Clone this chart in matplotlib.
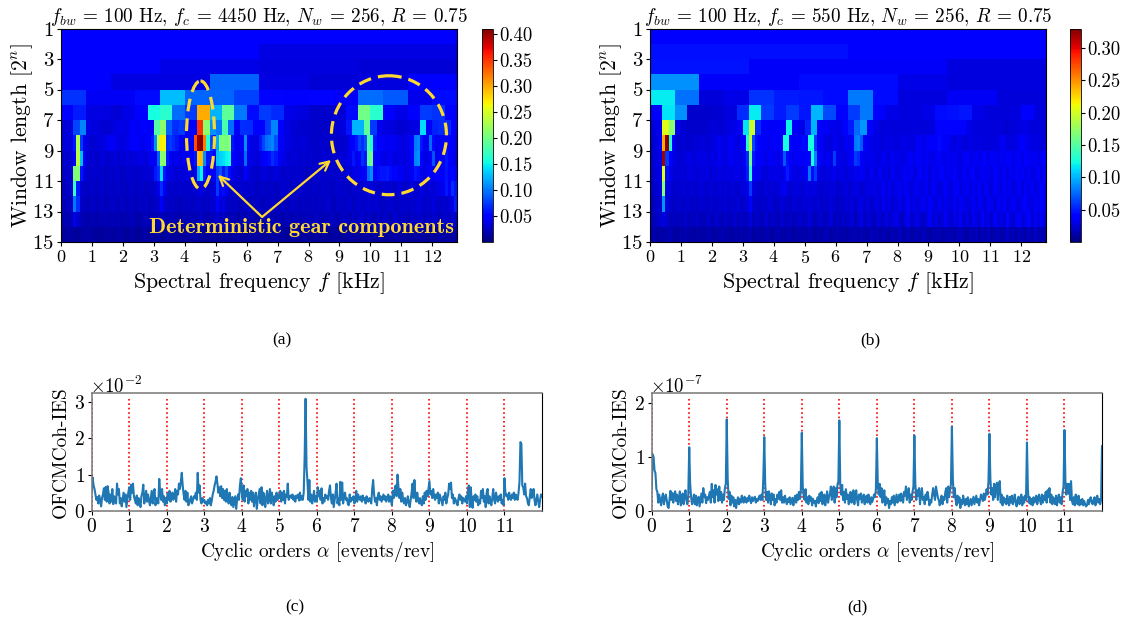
import matplotlib
matplotlib.use('Agg')
import matplotlib.pyplot as plt
import numpy as np
from matplotlib.patches import Ellipse

plt.rcParams['font.family'] = 'cmr10'
plt.rcParams['mathtext.fontset'] = 'cm'
plt.rcParams['axes.unicode_minus'] = False
plt.rcParams['axes.formatter.use_mathtext'] = True

# heatmap rows in thousandths, row n spans y=n..n+1
a_rows = [
 [48],
 [50,36],
 [48,38,34,32],
 [48,36,36,90,36,32,34,45],
 [72,42,42,56,128,92,92,78,52,46,52,44,96,88,40,56],
 [48,62,36,36,32,38,46,155,165,95,75,300,125,190,100,55,75,68,38,34,28,28,32,56,200,165,48,38,46,75,72,48],
 [32,34,80,105,36,34,32,30,34,38,36,44,42,46,44,185,215,90,70,75,50,48,350,215,110,100,180,95,50,70,68,48,
  50,75,105,48,36,32,30,28,28,26,26,28,30,34,60,125,125,190,75,40,36,34,30,32,34,36,140,44,65,68,66,44],
 [30,34,32,38,60,230,75,40,34,30,30,32,34,36,36,42,
  44,40,36,34,36,38,44,46,48,44,40,46,50,60,110,240,
  270,265,70,75,68,60,44,40,42,46,44,340,400,410,320,165,
  80,60,120,205,210,200,215,60,44,40,42,110,44,38,36,34,
  60,80,95,100,105,85,50,44,36,34,34,32,30,32,34,30,
  28,28,26,28,30,28,26,28,28,26,28,30,32,44,50,60,
  80,70,85,185,160,60,50,46,44,40,44,42,40,38,36,36,
  44,52,100,105,60,42,40,95,55,42,44,46,44,48,44,40],
 [26,30,28,32,44,235,130,42,30,28,32,26,30,34,30,28,
  30,34,28,32,30,36,30,34,32,38,36,32,40,44,40,90,
  215,210,60,42,38,40,36,44,40,42,44,60,290,295,110,60,
  60,48,130,135,140,150,155,46,44,40,38,95,40,36,34,32,
  38,44,50,55,70,60,44,38,36,32,30,34,30,28,30,28,
  30,28,26,28,30,32,28,26,30,28,34,30,36,40,60,40,
  50,70,60,190,200,50,44,40,36,38,42,36,34,38,36,34,
  40,48,105,110,50,38,34,44,85,38,44,50,60,46,40,38],
 [24,26,28,30,205,210,60,34,28,26,30,28,26,30,24,28,
  26,28,30,24,28,26,30,28,26,28,30,32,30,34,60,70,
  140,60,40,36,34,30,34,32,36,34,32,40,120,150,60,44,
  40,45,75,85,60,80,55,38,34,32,30,50,34,30,28,26,
  30,34,32,28,30,34,30,28,26,30,28,26,30,26,28,24,
  26,28,26,30,28,26,28,30,26,28,30,26,34,30,38,36,
  40,44,50,95,110,44,56,60,58,62,56,48,52,40,44,36,
  38,44,60,55,40,34,42,50,40,46,44,50,58,48,54,46],
 [22,24,26,30,170,60,30,26,24,28,26,24,28,26,24,26,
  24,26,28,24,26,24,28,26,24,28,26,24,28,26,30,40,
  70,42,30,26,28,26,30,28,26,28,30,28,34,36,30,28,
  30,34,75,44,55,40,30,28,26,28,30,28,26,30,26,24,
  26,28,24,26,28,24,26,28,30,26,24,28,26,30,28,26,
  24,26,28,24,30,26,28,24,26,30,28,26,28,24,30,26,
  30,28,34,30,36,30,28,26,32,28,30,26,28,34,30,28,
  30,34,28,30,36,32,28,34,30,36,38,40,60,44,70,58],
 [20,22,24,26,100,70,26,24,22,24,26,22,24,26,22,24,
  26,24,22,26,24,22,26,24,22,26,24,26,22,24,26,30,
  44,30,26,24,26,24,22,26,24,26,24,26,28,26,24,26,
  28,30,48,32,36,28,26,24,26,24,22,26,24,22,24,26,
  24,22,26,24,28,24,22,26,24,22,28,26,24,22,26,24,
  24,26,22,28,24,26,30,24,22,26,28,24,26,30,24,26,
  30,26,28,32,26,30,28,24,28,26,30,28,24,26,30,28,
  26,30,28,34,30,26,30,28,34,28,26,30,28,32,36,62],
 [16,18,20,18,40,28,20,18,16,20,18,16,20,18,22,18,
  20,18,22,16,20,18,22,20,18,16,20,22,18,20,18,22,
  24,20,18,22,20,18,16,20,22,18,20,18,22,26,20,18,
  22,26,30,22,26,20,18,22,20,16,20,18,22,20,18,16,
  20,18,22,24,20,18,22,16,20,22,18,20,24,18,22,20,
  24,20,26,22,18,24,20,26,22,18,22,26,24,20,28,22,
  26,30,22,28,24,20,26,22,28,24,20,26,30,22,26,24,
  22,28,24,30,26,22,28,24,30,26,22,28,26,24,30,26],
 [12,14,10,13,16,12,10,14,12,15,11,13,10,14,12,13,
  11,14,12,10,13,15,12,11,14,10,13,12,15,11,13,14,
  12,10,14,13,11,15,12,14,10,13,12,11,14,12,15,13,
  11,14,12,13,10,14,15,12,11,13,14,10,12,15,13,14],
]

b_rows = [
 [41],
 [46,39],
 [47,35,35,28],
 [88,36,36,44,45,30,28,28],
 [118,78,26,30,58,50,48,44,80,44,28,28,34,34,26,26],
 [40,115,88,22,22,24,28,55,118,60,50,60,48,100,65,40,60,80,40,30,28,28,30,44,46,48,30,26,26,28,40,28],
 [28,30,205,170,30,24,22,22,22,24,26,24,28,30,34,115,195,55,38,36,36,40,120,34,30,52,100,40,34,32,30,38,
  50,75,90,40,30,26,28,26,28,26,28,26,26,28,42,42,42,42,42,30,28,26,28,26,26,24,26,28,30,28,26,26],
 [24,26,28,36,240,325,130,40,24,22,26,24,22,24,26,24,
  28,26,24,28,26,30,34,30,28,32,36,30,28,34,40,130,
  195,65,44,40,36,34,32,36,38,34,40,125,125,40,34,36,
  38,44,42,125,125,60,36,34,30,28,26,34,30,28,30,34,
  32,38,80,85,70,36,30,32,28,30,28,26,30,28,30,26,
  28,32,30,28,30,28,34,36,30,34,38,36,40,44,40,36,
  34,30,28,32,30,26,28,30,28,26,30,28,26,28,26,28,
  30,32,34,28,26,30,28,36,40,34,30,28,30,28,26,28],
 [24,26,28,30,320,60,40,30,26,24,28,26,30,28,26,30,
  28,30,26,28,30,28,34,30,28,32,34,30,32,28,34,55,
  160,50,40,36,34,30,36,34,32,30,34,70,45,36,32,34,
  36,34,40,42,125,85,38,34,30,36,30,60,32,30,28,30,
  34,40,60,55,36,32,30,34,30,28,30,34,30,28,34,30,
  32,28,30,36,34,30,38,34,30,36,32,30,34,38,32,30,
  36,30,34,32,28,34,38,30,32,36,30,34,38,30,36,34,
  30,34,32,40,36,30,34,38,30,40,34,32,36,30,34,38],
 [22,24,28,30,205,44,30,26,24,28,26,24,30,26,28,24,
  28,26,30,24,28,26,30,28,26,30,28,32,30,28,32,50,
  135,40,30,34,28,26,30,28,32,30,26,36,50,34,30,28,
  30,32,36,80,44,60,30,28,26,30,28,34,26,30,28,26,
  30,28,34,32,36,30,28,34,26,30,34,28,30,26,34,30,
  28,32,36,30,34,28,32,38,30,34,28,36,30,34,38,30,
  34,30,38,32,28,36,30,34,38,28,32,36,30,34,28,38,
  32,30,36,28,34,30,40,32,36,30,34,28,32,38,30,34],
 [20,22,24,26,170,30,26,22,24,22,26,24,22,26,24,22,
  26,24,22,26,24,22,28,24,26,22,26,24,22,28,26,30,
  60,28,26,24,22,26,24,28,24,26,30,36,28,24,26,28,
  26,24,30,28,26,30,24,22,26,24,28,26,22,24,26,28,
  24,26,30,28,24,26,30,28,32,26,30,34,28,32,26,30,
  34,28,36,30,26,32,36,28,30,34,28,38,32,26,30,36,
  30,26,34,38,28,32,36,26,34,30,38,28,34,30,26,36,
  32,28,36,30,34,26,30,38,28,34,30,36,28,32,38,30],
 [18,20,22,24,90,28,22,20,22,24,20,22,24,20,22,20,
  24,22,20,24,22,20,24,22,26,20,24,22,26,20,24,26,
  40,24,22,20,24,22,26,24,20,22,26,22,24,20,26,24,
  22,26,24,28,24,22,26,20,24,22,26,24,20,24,22,26,
  24,28,22,26,30,24,28,22,26,30,24,34,26,30,24,28,
  32,26,30,36,28,32,26,30,34,28,36,30,26,34,28,32,
  30,26,34,28,36,32,26,30,36,28,34,30,26,36,32,28,
  34,30,38,28,32,36,30,26,34,38,30,28,36,32,40,30],
 [16,18,20,22,30,22,18,20,16,20,18,22,16,20,18,22,
  18,16,22,20,18,24,20,16,22,18,20,24,16,22,18,20,
  26,18,22,20,16,24,18,22,20,16,24,20,18,22,16,20,
  24,18,22,26,20,16,22,24,18,20,26,16,22,18,24,20,
  22,26,18,24,30,20,26,22,18,28,24,20,30,22,26,32,
  24,20,28,34,22,26,30,24,20,28,36,24,30,22,26,34,
  28,22,32,26,36,24,30,22,34,28,24,38,26,30,22,36,
  26,32,24,42,28,22,34,40,26,30,38,24,34,28,36,24],
 [12,15,10,14,11,13,16,12,10,14,12,15,11,13,10,14,
  12,11,15,13,10,14,12,16,11,13,10,15,12,14,11,13,
  16,10,14,12,11,15,13,10,14,16,12,11,15,13,10,14,
  12,15,11,16,13,10,14,12,15,18,11,13,16,12,14,11,
  15,13,18,12,16,14,11,20,13,16,12,18,14,11,16,13,
  20,12,15,18,11,14,17,12,20,14,11,16,13,18,12,15,
  14,18,12,16,20,13,11,17,14,19,12,16,13,20,11,15,
  18,12,14,22,13,17,11,20,15,12,18,14,22,13,16,12],
]

# envelope values per order interval, one list per cyclic order
c_vals = [
 [0.55,0.92,0.7,0.6,0.45,0.3,0.38,0.2,0.42,0.3,0.12,0.35,0.45,0.62,0.3,0.66,0.25,0.68,0.5,0.2,0.45,0.25,0.6,0.18,0.4,0.3,0.2,0.75,0.45,0.6,0.2,0.35,0.12,0.3,0.5,0.25,0.45,0.1,0.3,0.5],
 [0.65,0.3,0.72,0.5,0.75,0.4,0.3,0.2,0.42,0.15,0.35,0.25,0.1,0.4,0.5,0.72,0.2,0.35,0.55,0.25,0.45,0.3,0.15,0.35,0.55,0.2,0.48,0.6,0.15,0.35,0.3,0.2,0.88,0.5,0.3,0.6,0.25,0.4,0.15,0.35],
 [0.2,0.48,0.3,0.55,0.25,0.45,0.5,0.3,0.4,0.6,0.25,0.55,0.45,0.75,0.6,0.8,1.05,0.7,0.45,0.3,0.55,0.25,0.5,0.15,0.2,0.32,0.4,0.2,0.3,0.4,0.35,0.5,0.3,1.05,0.5,0.7,0.3,0.2,0.35,0.25],
 [0.3,0.2,0.25,0.15,0.3,0.2,0.35,0.15,0.28,0.45,0.55,0.7,0.8,0.95,0.75,0.5,0.65,0.4,0.68,0.35,0.6,0.3,0.55,0.25,0.6,0.35,0.2,0.5,0.3,0.15,0.38,0.1,0.25,0.4,0.05,0.3,0.45,0.3,0.7,0.9],
 [0.5,0.3,0.7,0.25,0.55,0.4,0.6,0.2,0.5,0.3,0.55,0.25,0.5,0.12,0.35,0.5,0.05,0.3,0.45,0.6,0.2,0.65,0.15,0.5,0.35,0.1,0.38,0.55,0.2,0.3,0.6,0.2,0.5,0.35,0.15,0.4,0.25,0.5,0.3,0.45],
 [0.35,0.55,0.25,0.5,0.3,0.55,0.2,0.45,0.38,0.75,0.3,0.4,0.42,0.35,0.45,0.3,0.4,0.25,0.42,0.35,0.45,0.28,0.5,0.3,0.4,0.3,0.5,1.5,3.1,1.2,0.8,0.3,0.85,0.25,0.45,0.2,0.35,0.55,0.25,0.4],
 [0.25,0.65,0.4,0.55,0.3,0.62,0.2,0.35,0.25,0.45,0.35,0.4,0.3,0.55,0.7,0.35,0.2,0.45,0.1,0.3,0.5,0.75,0.2,0.35,0.15,0.8,0.3,0.78,0.2,0.4,0.5,0.3,0.35,0.2,0.15,0.45,0.25,0.35,0.3,0.4],
 [0.2,0.3,0.55,0.25,0.45,0.35,0.3,0.4,0.25,0.42,0.3,0.35,0.2,0.4,0.3,0.25,0.35,0.3,0.2,0.6,0.85,0.45,0.25,0.35,0.15,0.4,0.5,0.3,0.4,0.25,0.35,0.45,0.3,0.4,0.25,0.35,0.45,0.25,0.4,0.3],
 [0.15,0.55,0.35,0.6,0.7,0.4,1.0,0.65,0.35,0.6,0.25,0.5,0.3,0.2,0.35,0.15,0.25,0.4,0.2,0.1,0.3,0.5,0.75,0.35,0.85,0.4,0.25,0.5,0.3,0.2,0.35,0.2,0.15,0.4,0.2,0.5,0.3,0.55,0.4,0.6],
 [0.82,0.45,0.55,0.35,0.6,0.4,0.3,0.45,0.35,0.5,0.2,0.45,0.35,0.25,0.15,0.4,0.3,0.5,0.2,0.35,0.45,0.75,0.6,0.78,0.35,0.45,0.2,0.35,0.3,0.2,0.15,0.35,0.45,0.3,0.4,0.2,0.35,0.3,0.25,0.4],
 [0.2,0.55,0.7,0.1,0.65,0.3,0.08,0.4,0.3,0.45,0.25,0.4,0.15,0.3,0.2,0.55,0.35,0.6,0.25,0.4,0.1,0.5,0.6,0.2,0.4,0.25,0.15,0.35,0.6,0.3,0.2,0.5,0.35,0.25,0.4,0.3,0.45,0.2,0.3,0.15],
 [0.9,0.5,0.4,0.45,0.3,0.5,0.35,0.3,0.45,0.35,0.5,0.3,0.45,0.35,0.3,0.5,0.8,1.9,1.85,0.7,0.65,0.45,0.75,0.4,0.35,0.2,0.15,0.4,0.6,0.35,0.45,0.6,0.3,0.15,0.3,0.45,0.25,0.1,0.3,0.45,0.4],
]

d_vals = [
 [0.4,1.05,1.0,0.75,0.7,0.4,0.35,0.15,0.3,0.2,0.1,0.25,0.32,0.12,0.22,0.3,0.2,0.08,0.05,0.22,0.37,0.2,0.33,0.15,0.28,0.36,0.18,0.3,0.12,0.22,0.36,0.1,0.22,0.32,0.12,0.26,0.38,0.2,0.12,0.3],
 [1.18,0.5,0.25,0.12,0.2,0.3,0.12,0.28,0.1,0.2,0.26,0.08,0.2,0.32,0.15,0.42,0.25,0.3,0.14,0.25,0.2,0.28,0.35,0.15,0.5,0.25,0.38,0.15,0.48,0.3,0.4,0.18,0.45,0.2,0.35,0.15,0.3,0.2,0.42,0.5],
 [1.7,0.6,0.22,0.35,0.1,0.28,0.15,0.25,0.08,0.2,0.05,0.18,0.25,0.12,0.22,0.15,0.28,0.2,0.15,0.26,0.22,0.15,0.24,0.18,0.28,0.2,0.14,0.25,0.18,0.22,0.26,0.15,0.22,0.18,0.24,0.28,0.2,0.3,0.2,0.62],
 [1.37,0.5,0.2,0.35,0.15,0.36,0.25,0.12,0.32,0.2,0.3,0.1,0.22,0.15,0.3,0.22,0.35,0.2,0.38,0.15,0.25,0.15,0.28,0.2,0.12,0.22,0.16,0.25,0.12,0.18,0.24,0.1,0.22,0.28,0.15,0.3,0.2,0.35,0.22,0.38],
 [1.45,0.45,0.28,0.2,0.4,0.15,0.25,0.12,0.28,0.18,0.25,0.1,0.22,0.15,0.18,0.08,0.2,0.25,0.14,0.32,0.18,0.35,0.12,0.25,0.3,0.1,0.22,0.36,0.15,0.25,0.32,0.45,0.2,0.35,0.45,0.15,0.42,0.25,0.48,0.55],
 [1.68,0.5,0.3,0.48,0.2,0.35,0.15,0.4,0.22,0.3,0.12,0.2,0.35,0.15,0.25,0.38,0.12,0.28,0.38,0.2,0.1,0.3,0.22,0.32,0.15,0.2,0.3,0.12,0.22,0.28,0.15,0.3,0.2,0.12,0.25,0.16,0.22,0.3,0.25,0.4],
 [1.35,0.5,0.3,0.5,0.25,0.42,0.15,0.3,0.38,0.1,0.25,0.15,0.22,0.05,0.18,0.12,0.25,0.15,0.28,0.1,0.2,0.3,0.15,0.25,0.3,0.18,0.32,0.2,0.15,0.35,0.28,0.45,0.2,0.3,0.42,0.15,0.3,0.2,0.35,0.45],
 [1.4,0.5,0.2,0.38,0.28,0.42,0.12,0.3,0.42,0.2,0.25,0.12,0.3,0.2,0.35,0.25,0.1,0.2,0.15,0.3,0.42,0.3,0.2,0.45,0.35,0.25,0.2,0.1,0.18,0.28,0.12,0.25,0.2,0.35,0.42,0.15,0.45,0.25,0.38,0.5],
 [1.56,0.6,0.25,0.42,0.2,0.1,0.28,0.15,0.25,0.05,0.2,0.12,0.28,0.18,0.1,0.22,0.12,0.25,0.08,0.15,0.22,0.1,0.18,0.26,0.12,0.2,0.28,0.15,0.22,0.1,0.2,0.3,0.25,0.18,0.32,0.2,0.28,0.4,0.3,0.55],
 [1.43,0.6,0.3,0.42,0.2,0.5,0.25,0.45,0.52,0.2,0.48,0.55,0.15,0.3,0.1,0.25,0.15,0.22,0.12,0.28,0.18,0.1,0.26,0.15,0.28,0.12,0.2,0.3,0.15,0.08,0.2,0.26,0.12,0.22,0.3,0.1,0.25,0.15,0.28,0.2],
 [1.27,0.4,0.15,0.25,0.12,0.22,0.1,0.25,0.15,0.2,0.28,0.12,0.22,0.3,0.18,0.12,0.3,0.15,0.28,0.2,0.35,0.15,0.38,0.25,0.42,0.15,0.3,0.12,0.25,0.18,0.12,0.28,0.1,0.22,0.3,0.15,0.25,0.12,0.35,0.45],
 [1.5,0.55,0.3,0.5,0.32,0.5,0.2,0.55,0.18,0.12,0.25,0.1,0.3,0.15,0.12,0.28,0.1,0.2,0.12,0.22,0.1,0.18,0.12,0.08,0.1,0.2,0.12,0.22,0.25,0.15,0.12,0.2,0.25,0.1,0.22,0.28,0.15,0.22,0.12,0.2,1.2],
]

orders_step = 0.025
harmonics = [0,1,2,3,4,5,6,7,8,9,10,11]
f_max = 12.8
W, H = 1125, 622
gold = '#FFD92E'

fig = plt.figure(figsize=(W/100, H/100), dpi=100)

def px_axes(x0, y0, x1, y1):
    return fig.add_axes([x0/W, 1-y1/H, (x1-x0)/W, (y1-y0)/H])

def heatmap(rows, box, cbox, vmax, cticks, title):
    ax = px_axes(*box)
    cax = px_axes(*cbox)
    for i, row in enumerate(rows):
        edges = np.linspace(0, f_max, len(row)+1)
        vals = np.array(row)[None, :]/1000
        m = ax.pcolormesh(edges, [i+1, i+2], vals, cmap='jet', vmin=0, vmax=vmax, rasterized=True)
    ax.set_xlim(0, f_max)
    ax.set_ylim(15, 1)
    ax.set_xticks(range(13))
    ax.set_yticks(range(1, 16, 2))
    ax.tick_params(axis='x', labelsize=13, pad=2, length=3)
    ax.tick_params(axis='y', labelsize=15, pad=2, length=3)
    ax.set_xlabel(r'Spectral frequency $f$ [kHz]', fontsize=15.8, labelpad=3)
    ax.set_ylabel(r'Window length [$2^n$]', fontsize=15.5, labelpad=-2)
    ax.set_title(title, fontsize=13.8, pad=1.5)
    cb = fig.colorbar(m, cax=cax)
    cb.set_ticks(cticks)
    cb.set_ticklabels(['%.2f' % t for t in cticks])
    cb.ax.tick_params(labelsize=13.5, pad=1.5, length=3)
    cb.outline.set_linewidth(0.6)
    return ax

def spectrum(vals, scale, box, top, yticks, red_top):
    ax = px_axes(*box)
    x = np.concatenate([k+np.arange(len(v))*orders_step for k, v in enumerate(vals)])
    y = np.concatenate(vals)*scale
    ax.vlines(harmonics, 0, red_top*scale, colors='red', linestyles=':', lw=1.2, zorder=1)
    ax.plot(x, y, color='#1f77b4', lw=1.5, zorder=2)
    ax.set_xlim(0, 12)
    ax.set_ylim(0, top*scale)
    ax.set_xticks(harmonics)
    ax.set_yticks(np.array(yticks)*scale)
    ax.ticklabel_format(axis='y', style='sci', scilimits=(0, 0), useMathText=True)
    ax.yaxis.OFFSETTEXTPAD = 0
    ax.yaxis.get_offset_text().set_fontsize(13.5)
    ax.yaxis.get_offset_text().set_x(-0.004)
    ax.tick_params(axis='x', labelsize=14, pad=2, length=3)
    ax.tick_params(axis='y', labelsize=14, pad=2, length=3)
    ax.set_xlabel(r'Cyclic orders $\alpha$ [events/rev]', fontsize=13.9, labelpad=3)
    ax.set_ylabel('OFCMCoh-IES', fontsize=14, labelpad=3)
    for s in ['top', 'left', 'bottom']:
        ax.spines[s].set_color('#777777')
        ax.spines[s].set_linewidth(1.1)
    return ax

ax_a = heatmap(a_rows, (61, 28.5, 457, 242), (482, 28.5, 493, 242), 0.411,
               [0.05,0.10,0.15,0.20,0.25,0.30,0.35,0.40],
               r'$f_{bw}$ = 100 Hz, $f_c$ = 4450 Hz, $N_w$ = 256, $R$ = 0.75')
ax_b = heatmap(b_rows, (650, 28.5, 1046, 242), (1070, 28.5, 1081, 242), 0.33,
               [0.05,0.10,0.15,0.20,0.25,0.30],
               r'$f_{bw}$ = 100 Hz, $f_c$ = 550 Hz, $N_w$ = 256, $R$ = 0.75')

# annotation on panel a
ax_a.add_patch(Ellipse((4.51, 7.98), 0.905, 7.08, fill=False, ec=gold, ls=(0, (4, 2.2)), lw=2.3))
ax_a.add_patch(Ellipse((10.6, 8.0), 3.72, 7.8, fill=False, ec=gold, ls=(0, (4, 2.2)), lw=2.3))
for tip in [(5.07, 10.6), (8.73, 9.62)]:
    ax_a.annotate('', xy=tip, xytext=(6.5, 13.36),
                  arrowprops=dict(arrowstyle='->', color=gold, lw=1.6, mutation_scale=16, shrinkA=0, shrinkB=0))
ax_a.text(7.76, 14.08, 'Deterministic gear components', color=gold, fontsize=16, family='cmb10', ha='center', va='center')

spectrum(c_vals, 1e-2, (91.7, 393, 542, 510.7), 3.26, [0,1,2,3], 3.1)
spectrum(d_vals, 1e-7, (651.7, 393, 1102, 510.7), 2.19, [0,1,2], 2.07)

for label, px, py in [('(a)',282,340),('(b)',870,340),('(c)',295,607),('(d)',857,607)]:
    fig.text(px/W, 1-py/H, label, fontsize=12.5, family='Liberation Serif', ha='center', va='center')

fig.savefig('out.png', dpi=100)
